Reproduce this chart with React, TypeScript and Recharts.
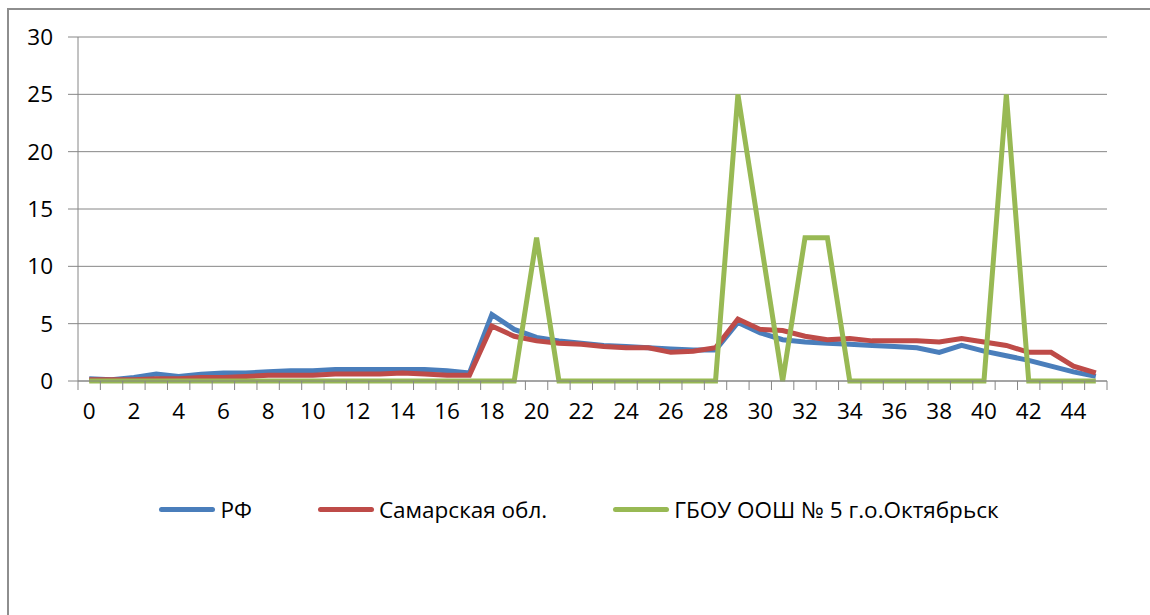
import React from "react";
import { LineChart, Line, XAxis, YAxis, CartesianGrid } from "recharts";

const categories = [
  0, 1, 2, 3, 4, 5, 6, 7, 8, 9, 10, 11, 12, 13, 14, 15, 16, 17, 18, 19, 20, 21, 22,
  23, 24, 25, 26, 27, 28, 29, 30, 31, 32, 33, 34, 35, 36, 37, 38, 39, 40, 41, 42, 43,
  44, 45,
];

const rf = [
  0.2, 0.1, 0.3, 0.6, 0.4, 0.6, 0.7, 0.7, 0.8, 0.9, 0.9, 1.0, 1.0, 1.0, 1.0, 1.0, 0.9,
  0.7, 5.8, 4.5, 3.8, 3.5, 3.3, 3.1, 3.0, 2.9, 2.8, 2.7, 2.7, 5.1, 4.2, 3.6, 3.4, 3.3,
  3.2, 3.1, 3.0, 2.9, 2.5, 3.1, 2.6, 2.2, 1.8, 1.3, 0.8, 0.4,
];

const samara = [
  0.1, 0.1, 0.1, 0.2, 0.2, 0.3, 0.3, 0.4, 0.5, 0.5, 0.5, 0.6, 0.6, 0.6, 0.7, 0.6, 0.5,
  0.5, 4.8, 3.9, 3.5, 3.3, 3.2, 3.0, 2.9, 2.9, 2.5, 2.6, 2.9, 5.4, 4.5, 4.4, 3.9, 3.6,
  3.7, 3.5, 3.5, 3.5, 3.4, 3.7, 3.4, 3.1, 2.5, 2.5, 1.3, 0.7,
];

const school = [
  0, 0, 0, 0, 0, 0, 0, 0, 0, 0, 0, 0, 0, 0, 0, 0, 0, 0, 0, 0, 12.5, 0, 0, 0, 0, 0, 0, 0,
  0, 25, 12.5, 0, 12.5, 12.5, 0, 0, 0, 0, 0, 0, 0, 25, 0, 0, 0, 0,
];

const yTicks = [0, 5, 10, 15, 20, 25, 30];

const seriesNames = ["РФ", "Самарская обл.", "ГБОУ ООШ № 5 г.о.Октябрьск"];
const colors = ["#4a7ebb", "#be4b48", "#98b954"];

const data = categories.map((c, i) => ({
  cat: c,
  rf: rf[i],
  samara: samara[i],
  school: school[i],
}));

const W = 1150;
const H = 615;
const PLOT_LEFT = 78;
const PLOT_RIGHT = 1107;
const PLOT_TOP = 37;
const PLOT_BOTTOM = 381;
const HALF_BAND = (PLOT_RIGHT - PLOT_LEFT) / categories.length / 2;
const FONT = "'Open Sans', sans-serif";
const FS = 22.5;
const GRID = "#868686";

const XTick = (props: any) => {
  const { x, y, payload } = props;
  const idx = payload.index;
  const last = idx === categories.length - 1;
  return (
    <g>
      <line x1={x - HALF_BAND} x2={x - HALF_BAND} y1={y} y2={y + 9} stroke={GRID} />
      {last && (
        <line x1={x + HALF_BAND} x2={x + HALF_BAND} y1={y} y2={y + 9} stroke={GRID} />
      )}
      {idx % 2 === 0 && (
        <text x={x} y={y + 38} textAnchor="middle" fontSize={FS} fill="#000" fontFamily={FONT}>
          {payload.value}
        </text>
      )}
    </g>
  );
};

const ChartLegend = () => (
  <div
    style={{
      position: "absolute",
      left: 0,
      top: 494,
      width: W,
      display: "flex",
      justifyContent: "center",
      alignItems: "center",
      fontFamily: FONT,
      fontSize: FS,
      color: "#000",
      paddingLeft: 8,
      boxSizing: "border-box",
    }}
  >
    {seriesNames.map((n, i) => (
      <div key={n} style={{ display: "flex", alignItems: "center", marginRight: i < 2 ? 66 : 0 }}>
        <div
          style={{
            width: 56,
            height: 5,
            borderRadius: 3,
            background: colors[i],
            marginRight: 5,
          }}
        />
        <span>{n}</span>
      </div>
    ))}
  </div>
);

export default function App() {
  return (
    <div style={{ position: "absolute", left: 0, top: 0, width: W, height: H, background: "#fff" }}>
      <div
        style={{
          position: "absolute",
          left: 7,
          top: 8,
          width: W - 7,
          height: H - 8,
          borderLeft: "2px solid #8e8e8e",
          borderTop: "2px solid #8e8e8e",
          boxSizing: "border-box",
        }}
      />
      <div style={{ position: "absolute", left: 0, top: 0 }}>
        <LineChart
          width={W}
          height={H}
          data={data}
          margin={{ top: PLOT_TOP, right: W - PLOT_RIGHT, left: 0, bottom: H - PLOT_BOTTOM - 60 }}
        >
          <CartesianGrid vertical={false} stroke={GRID} strokeWidth={1} />
          <XAxis
            dataKey="cat"
            type="category"
            scale="band"
            interval={0}
            height={60}
            tickLine={false}
            tickSize={0}
            tickMargin={0}
            axisLine={{ stroke: GRID }}
            tick={<XTick />}
          />
          <YAxis
            width={PLOT_LEFT}
            domain={[0, 30]}
            ticks={yTicks}
            interval={0}
            tickSize={10}
            tickMargin={15}
            axisLine={{ stroke: GRID }}
            tickLine={{ stroke: GRID }}
            tick={{ fontSize: FS, fill: "#000", fontFamily: FONT }}
          />
          <Line
            dataKey="rf"
            name={seriesNames[0]}
            stroke={colors[0]}
            strokeWidth={5}
            dot={false}
            isAnimationActive={false}
          />
          <Line
            dataKey="samara"
            name={seriesNames[1]}
            stroke={colors[1]}
            strokeWidth={5}
            dot={false}
            isAnimationActive={false}
          />
          <Line
            dataKey="school"
            name={seriesNames[2]}
            stroke={colors[2]}
            strokeWidth={5}
            dot={false}
            isAnimationActive={false}
          />
        </LineChart>
      </div>
      <ChartLegend />
    </div>
  );
}
